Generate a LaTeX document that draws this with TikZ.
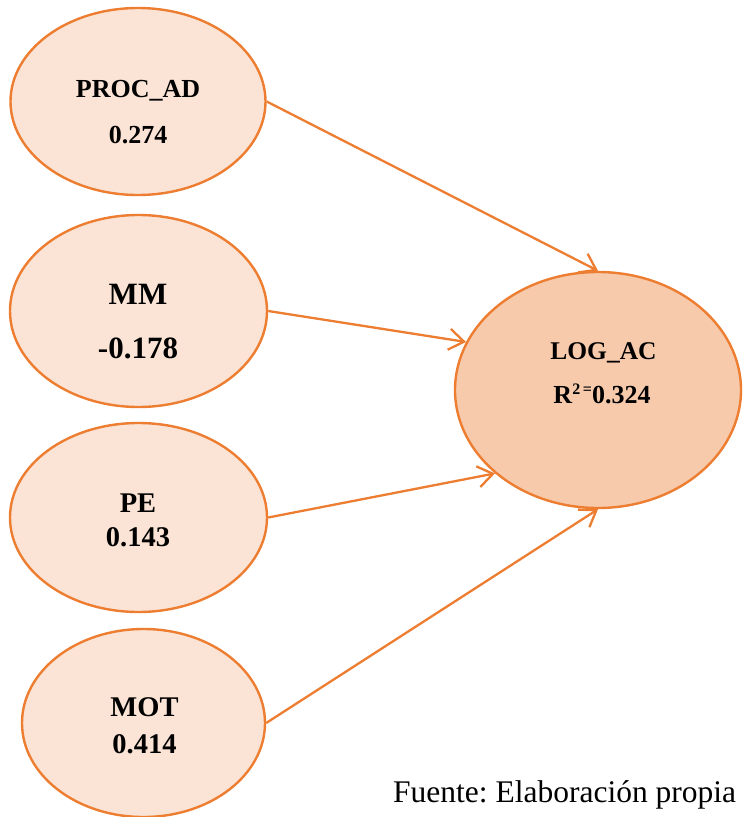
\documentclass[tikz,border=0pt]{standalone}
\usepackage{fontspec}
\setmainfont{Liberation Serif}
\usetikzlibrary{arrows.meta,shapes.geometric}
\frenchspacing

\definecolor{accent}{HTML}{ED7D31}
\definecolor{paleorange}{HTML}{FBE4D5}
\definecolor{midorange}{HTML}{F7CAAC}

\tikzset{
  latent/.style={ellipse, draw=accent, line width=2.4pt, fill=paleorange, inner sep=0pt},
  target/.style={latent, fill=midorange},
  lbl/.style={anchor=base, inner sep=0pt, font=\bfseries},
  path/.style={draw=accent, line width=2.3pt,
    -{Straight Barb[length=15pt, width=21pt, line width=2.3pt]}},
}

\begin{document}
\begin{tikzpicture}[x=1pt, y=-1pt]
  \useasboundingbox (0,0) rectangle (742,817);

  % predictor constructs
  \node[latent, minimum width=255pt, minimum height=187pt] (procad) at (138,101.5) {};
  \node[latent, minimum width=257pt, minimum height=192pt] (mm) at (138.5,311) {};
  \node[latent, minimum width=257pt, minimum height=189pt] (pe) at (138.5,517.5) {};
  \node[latent, minimum width=243pt, minimum height=188pt] (mot) at (143.5,723) {};

  % outcome construct
  \node[target, minimum width=286pt, minimum height=236pt] (logac) at (598,390) {};

  % construct labels and path coefficients
  \node[lbl, font=\fontsize{26}{26}\selectfont\bfseries] (procadname) at (138,97) {PROC\_AD};
  \node[lbl, font=\fontsize{26}{26}\selectfont\bfseries] (procadval) at (138,143) {0.274};

  \node[lbl, font=\fontsize{31}{31}\selectfont\bfseries] (mmname) at (138,304) {MM};
  \node[lbl, font=\fontsize{31}{31}\selectfont\bfseries] (mmval) at (138,358) {-0.178};

  \node[lbl, font=\fontsize{28.5}{28.5}\selectfont\bfseries] (pename) at (138,512) {PE};
  \node[lbl, font=\fontsize{28.5}{28.5}\selectfont\bfseries] (peval) at (138,546) {0.143};

  \node[lbl, font=\fontsize{28.5}{28.5}\selectfont\bfseries] (motname) at (144.5,716) {MOT};
  \node[lbl, font=\fontsize{28.5}{28.5}\selectfont\bfseries] (motval) at (144.5,753) {0.414};

  \node[lbl, font=\fontsize{25.5}{25.5}\selectfont\bfseries] (logacname) at (603.5,359) {LOG\_AC};
  \node[lbl, font=\fontsize{26}{26}\selectfont\bfseries] (logacr2) at (602,403)
    {R\raisebox{9pt}{\fontsize{16}{16}\selectfont\bfseries 2\,=}0.324};

  % structural paths
  \draw[path] (procad.east) -- (logac.north);
  \draw[path] (mm.east) -- (logac.160.9);
  \draw[path] (pe.east) -- (logac.219);
  \draw[path] (mot.east) -- (logac.south);

  % source note
  \node[anchor=base west, inner sep=0pt, font=\fontsize{31.5}{31.5}\selectfont] (source) at (393,802) {Fuente: Elaboración propia};
\end{tikzpicture}
\end{document}
